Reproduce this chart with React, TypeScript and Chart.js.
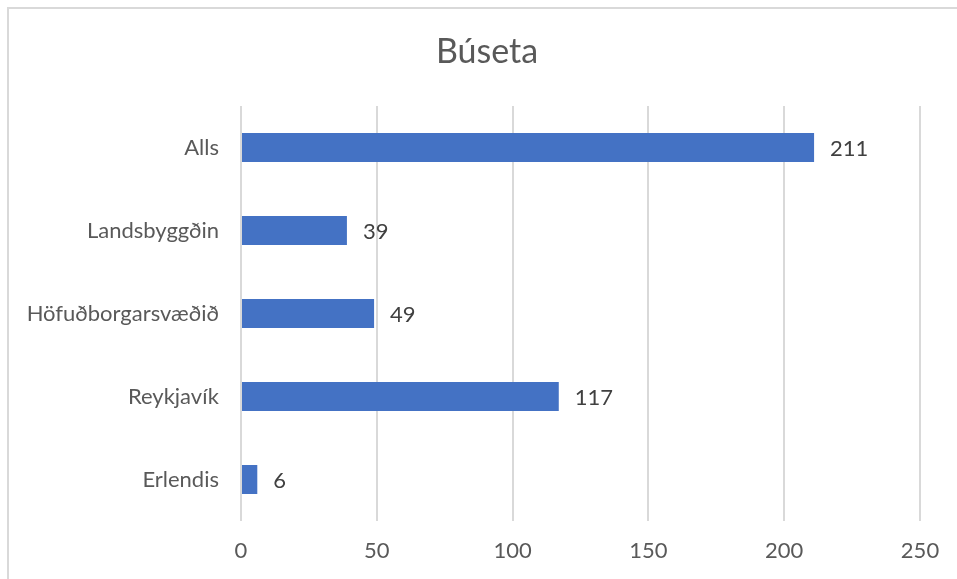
import React, { useEffect, useRef } from "react";
import { Chart, registerables } from "chart.js";

Chart.register(...registerables);

const categories = ["Alls", "Landsbyggðin", "Höfuðborgarsvæðið", "Reykjavík", "Erlendis"];
const values = [211, 39, 49, 117, 6];
const xTicks = [0, 50, 100, 150, 200, 250];
const titleText = "Búseta";

const FONT = "Lato, 'Open Sans', sans-serif";

const frame = {
  id: "frame",
  beforeDraw(chart: any) {
    const ctx = chart.ctx;
    ctx.save();
    ctx.fillStyle = "#ffffff";
    ctx.fillRect(0, 0, chart.width, chart.height);
    ctx.strokeStyle = "#D9D9D9";
    ctx.lineWidth = 2;
    ctx.strokeRect(8, 8, chart.width + 20, chart.height + 20);
    ctx.font = `34px ${FONT}`;
    ctx.fillStyle = "#595959";
    ctx.textAlign = "center";
    ctx.textBaseline = "alphabetic";
    ctx.fillText(titleText, 487, 63);
    ctx.restore();
  },
};

const valueLabels = {
  id: "valueLabels",
  afterDatasetsDraw(chart: any) {
    const ctx = chart.ctx;
    const meta = chart.getDatasetMeta(0);
    ctx.save();
    ctx.font = `22px ${FONT}`;
    ctx.fillStyle = "#404040";
    ctx.textAlign = "left";
    ctx.textBaseline = "middle";
    meta.data.forEach((bar: any, i: number) => {
      ctx.fillText(String(values[i]), bar.x + 16, bar.y + 1);
    });
    ctx.restore();
  },
};

export default function App() {
  const ref = useRef<HTMLCanvasElement>(null);
  useEffect(() => {
    const chart = new Chart(ref.current!, {
      type: "bar",
      data: {
        labels: categories,
        datasets: [
          {
            data: values,
            backgroundColor: "#4472C4",
            barPercentage: 0.35,
            categoryPercentage: 1,
          },
        ],
      },
      options: {
        indexAxis: "y",
        animation: false,
        responsive: false,
        layout: { padding: { left: 0, right: 37, top: 106, bottom: 0 } },
        plugins: {
          legend: { display: false },
          tooltip: { enabled: false },
          title: { display: false },
        },
        scales: {
          x: {
            min: 0,
            max: 250,
            afterFit(axis: any) {
              axis.height = 58;
            },
            afterBuildTicks(axis: any) {
              axis.ticks = xTicks.map((v) => ({ value: v }));
            },
            grid: { color: "#D9D9D9", lineWidth: 2, drawTicks: false },
            border: { display: false },
            ticks: {
              color: "#595959",
              padding: 17,
              font: { family: FONT, size: 22 },
            },
          },
          y: {
            afterFit(axis: any) {
              axis.width = 241;
            },
            grid: { display: false, drawTicks: false },
            border: { display: false },
            ticks: {
              color: "#595959",
              padding: 22,
              font: { family: FONT, size: 22 },
            },
          },
        },
      },
      plugins: [frame, valueLabels],
    });
    return () => chart.destroy();
  }, []);
  return (
    <div style={{ position: "absolute", left: 0, top: 0, width: 957, height: 579 }}>
      <canvas ref={ref} width={957} height={579} style={{ display: "block" }} />
    </div>
  );
}
